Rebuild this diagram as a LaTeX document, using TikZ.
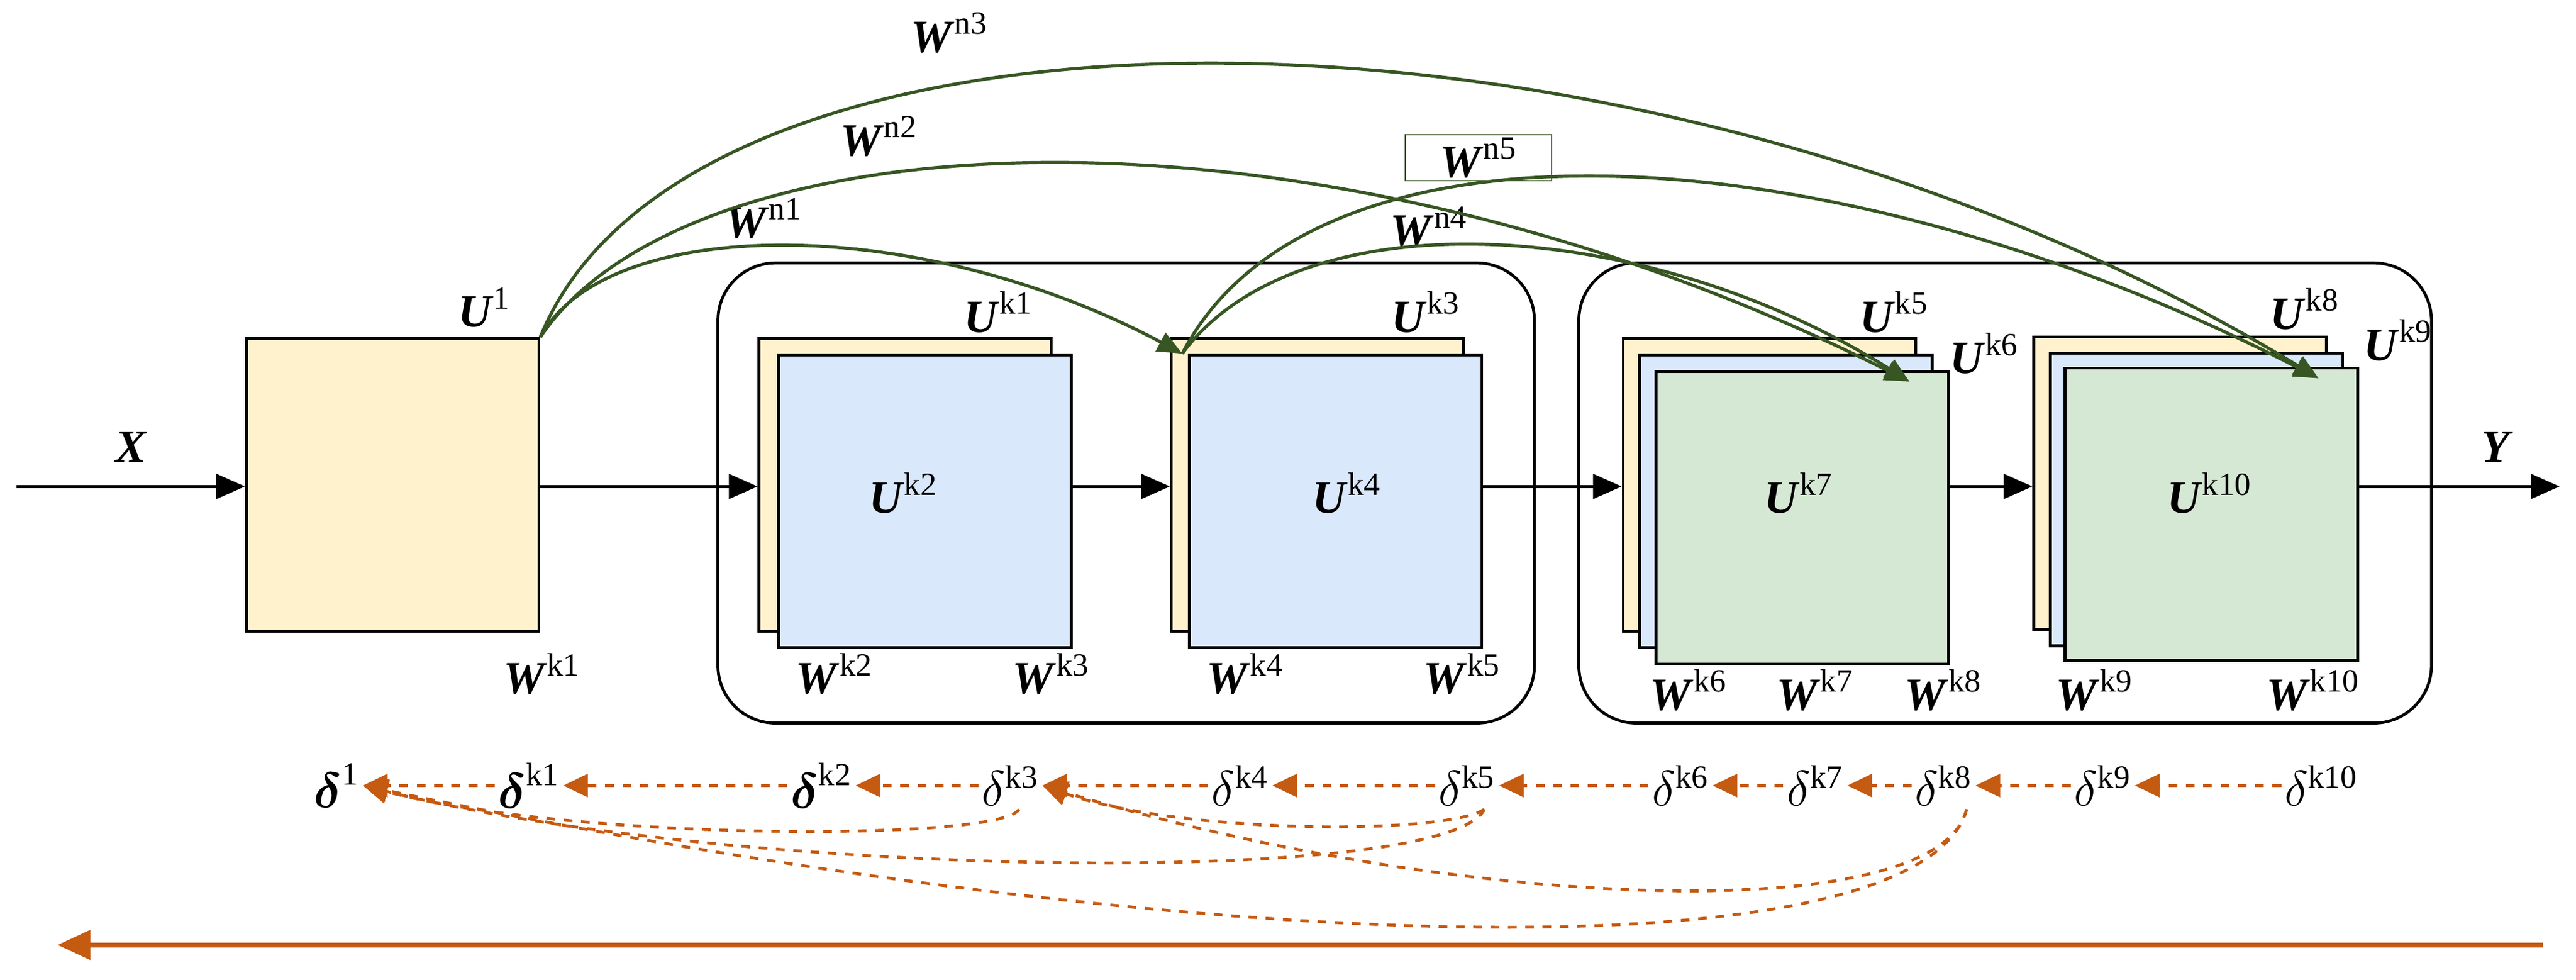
\documentclass[tikz,border=0pt]{standalone}
\usepackage{amsmath}
\usepackage{fontspec}
\setmainfont{Liberation Serif}
\usepackage{tikz}
\usetikzlibrary{arrows.meta, positioning}
\definecolor{cream}{HTML}{FFF2CC}
\definecolor{paleblue}{HTML}{DAE8FC}
\definecolor{palegreen}{HTML}{D5E8D4}
\definecolor{skipgreen}{HTML}{375623}
\definecolor{gradorange}{HTML}{C55A11}
\tikzset{
  layer/.style={
    minimum width=3.56cm,
    minimum height=3.56cm,
    draw=black,
    line width=1pt,
    inner sep=0pt
  },
  group/.style={
    draw=black,
    line width=1pt,
    rounded corners=0.7cm
  },
  lbl/.style={
    font=\fontsize{16}{19}\selectfont,
    inner sep=1pt
  },
  flow/.style={draw,line width=1pt,-{Triangle[length=0.35cm,width=0.3cm]}},
  skip/.style={draw=skipgreen,line width=1.1pt,-{Triangle[length=0.3cm,width=0.25cm]}},
  grad/.style={draw=gradorange,line width=1pt,dashed,-{Triangle[length=0.3cm,width=0.28cm]}},
  back/.style={draw=gradorange,line width=1.8pt,-{Triangle[length=0.4cm,width=0.35cm]}}
}
\newcommand{\Bv}[1]{\textbf{\textit{#1}}}
\newcommand{\Sp}[1]{^{\text{#1}}}
\begin{document}
\begin{tikzpicture}[x=0.02cm, y=-0.02cm]
    \useasboundingbox (0,0) rectangle (1568,596);
    % groups
    \draw [group] (437,160) rectangle (934,440);
    \draw [group] (961,160) rectangle (1480,440);
    % layers
    \node (u1) [layer, fill=cream] at (239,295) {};
    \node (s1b) [layer, fill=cream] at (551,295) {};
    \node (s1f) [layer, fill=paleblue] at (563,305) {};
    \node (s2b) [layer, fill=cream] at (802,295) {};
    \node (s2f) [layer, fill=paleblue] at (813,305) {};
    \node (s3b) [layer, fill=cream] at (1077,295) {};
    \node (s3m) [layer, fill=paleblue] at (1087,305) {};
    \node (s3f) [layer, fill=palegreen] at (1097,315) {};
    \node (s4b) [layer, fill=cream] at (1327,294) {};
    \node (s4m) [layer, fill=paleblue] at (1337,304) {};
    \node (s4f) [layer, fill=palegreen] at (1346,313) {};
    % inputs and outputs
    \coordinate (in) at (10,296);
    \coordinate (out) at (1558,296);
    \node (lx) [lbl] at (80,272) {$\Bv{X}$};
    \node (ly) [lbl] at (1520,272) {$\Bv{Y}$};
    \draw [flow] (in) -- (in -| u1.west);
    \draw [flow] (u1.east |- in) -- (s1b.west |- in);
    \draw [flow] (s1f.east |- in) -- (s2b.west |- in);
    \draw [flow] (s2f.east |- in) -- (s3b.west |- in);
    \draw [flow] (s3f.east |- in) -- (s4b.west |- in);
    \draw [flow] (s4f.east |- in) -- (out);
    % layer labels
    \node [lbl] at (295,187) {$\Bv{U}\Sp{1}$};
    \node [lbl] at (330,410) {$\Bv{W}\Sp{k1}$};
    \node [lbl] at (608,190) {$\Bv{U}\Sp{k1}$};
    \node [lbl] at (550,300) {$\Bv{U}\Sp{k2}$};
    \node [lbl] at (508,410) {$\Bv{W}\Sp{k2}$};
    \node [lbl] at (640,410) {$\Bv{W}\Sp{k3}$};
    \node [lbl] at (868,190) {$\Bv{U}\Sp{k3}$};
    \node [lbl] at (820,300) {$\Bv{U}\Sp{k4}$};
    \node [lbl] at (758,410) {$\Bv{W}\Sp{k4}$};
    \node [lbl] at (890,410) {$\Bv{W}\Sp{k5}$};
    \node [lbl] at (1153,190) {$\Bv{U}\Sp{k5}$};
    \node [lbl] at (1208,215) {$\Bv{U}\Sp{k6}$};
    \node [lbl] at (1095,300) {$\Bv{U}\Sp{k7}$};
    \node [lbl] at (1028,420) {$\Bv{W}\Sp{k6}$};
    \node [lbl] at (1105,420) {$\Bv{W}\Sp{k7}$};
    \node [lbl] at (1183,420) {$\Bv{W}\Sp{k8}$};
    \node [lbl] at (1403,188) {$\Bv{U}\Sp{k8}$};
    \node [lbl] at (1460,207) {$\Bv{U}\Sp{k9}$};
    \node [lbl] at (1345,300) {$\Bv{U}\Sp{k10}$};
    \node [lbl] at (1275,420) {$\Bv{W}\Sp{k9}$};
    \node [lbl] at (1408,420) {$\Bv{W}\Sp{k10}$};
    % skip connections
    \node (n1) [lbl] at (465,133) {$\Bv{W}\Sp{n1}$};
    \node (n2) [lbl] at (535,83) {$\Bv{W}\Sp{n2}$};
    \node (n3) [lbl] at (578,20) {$\Bv{W}\Sp{n3}$};
    \node (n4) [lbl] at (870,138) {$\Bv{W}\Sp{n4}$};
    \node (n5) [lbl, draw=skipgreen, minimum width=1.78cm, minimum height=0.56cm] at (900,96) {$\Bv{W}\Sp{n5}$};
    \draw [skip] (u1.north east) .. controls (370,130) and (560,130) .. ([xshift=-2pt]s2f.north west);
    \draw [skip] (u1.north east) .. controls (420,70) and (800,50) .. ([xshift=-14pt,yshift=-4pt]s3f.north east);
    \draw [skip] (u1.north east) .. controls (420,-20) and (1000,-20) .. ([xshift=-14pt,yshift=-4pt]s4f.north east);
    \draw [skip] ([xshift=-2pt]s2f.north west) .. controls (790,120) and (1000,130) .. ([xshift=-14pt,yshift=-4pt]s3f.north east);
    \draw [skip] ([xshift=-2pt]s2f.north west) .. controls (800,60) and (1120,80) .. ([xshift=-14pt,yshift=-4pt]s4f.north east);
    % gradients
    \node (d1) [lbl] at (205,478) {$\boldsymbol{\delta}\Sp{1}$};
    \node (dk1) [lbl] at (322,478) {$\boldsymbol{\delta}\Sp{k1}$};
    \node (dk2) [lbl] at (500,478) {$\boldsymbol{\delta}\Sp{k2}$};
    \node (dk3) [lbl] at (615,478) {$\delta\Sp{k3}$};
    \node (dk4) [lbl] at (755,478) {$\delta\Sp{k4}$};
    \node (dk5) [lbl] at (893,478) {$\delta\Sp{k5}$};
    \node (dk6) [lbl] at (1023,478) {$\delta\Sp{k6}$};
    \node (dk7) [lbl] at (1105,478) {$\delta\Sp{k7}$};
    \node (dk8) [lbl] at (1183,478) {$\delta\Sp{k8}$};
    \node (dk9) [lbl] at (1280,478) {$\delta\Sp{k9}$};
    \node (dk10) [lbl] at (1413,478) {$\delta\Sp{k10}$};
    \foreach \a/\b in {dk1/d1, dk2/dk1, dk3/dk2, dk4/dk3, dk5/dk4, dk6/dk5, dk7/dk6, dk8/dk7, dk9/dk8, dk10/dk9}
      \draw [grad] (\a.west) -- (\b.east);
    \draw [grad] ([xshift=3pt]dk3.south) .. controls (610,512) and (350,512) .. (d1.east);
    \draw [grad] ([xshift=6pt]dk5.south) .. controls (880,540) and (450,535) .. (d1.east);
    \draw [grad] ([xshift=6pt]dk5.south) .. controls (880,508) and (720,508) .. (dk3.east);
    \draw [grad] ([xshift=8pt]dk8.south) .. controls (1180,565) and (890,555) .. (dk3.east);
    \draw [grad] ([xshift=8pt]dk8.south) .. controls (1170,590) and (760,590) .. (d1.east);
    \coordinate (bstart) at (1548,575);
    \coordinate (bend) at (35,575);
    \draw [back] (bstart) -- (bend);
\end{tikzpicture}
\end{document}
